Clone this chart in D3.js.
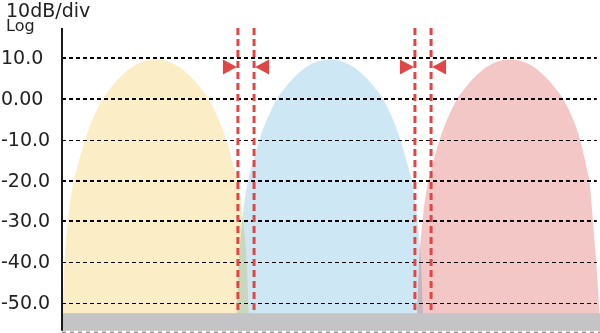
<!DOCTYPE html>
<html><head><meta charset="utf-8">
<script src="https://cdn.jsdelivr.net/npm/d3@7"></script>
<style>
html,body{margin:0;padding:0;background:#fff;}
svg{display:block;}
text{font-family:"DejaVu Sans",sans-serif;fill:#222;}
</style></head>
<body>
<script>
// ---- data ----
const yTicks = [10, 0, -10, -20, -30, -40, -50];
const yTickLabels = ["10.0", "0.00", "-10.0", "-20.0", "-30.0", "-40.0", "-50.0"];
const scaleLabel = "10dB/div";
const modeLabel = "Log";
const channelNames = ["ch1", "ch2", "ch3"];
const levels = [-52.5,-42,-30.2,-19.9,-17.4,-9.6,-2.7,0.3,2.6,4.8,7.0,9.0,9.7,9.0,7.0,4.8,2.6,0.3,-2.7,-9.6,-17.4,-19.9,-30.2,-42,-52.5];
const ch1X = [0.1,0.4,1.1,2.2,2.7,4.4,6.5,7.7,9.0,10.4,12.2,14.8,17.4,20.0,22.6,24.4,25.8,27.1,28.3,30.4,32.1,32.6,33.7,34.4,34.7];
const ch2X = [32.5,32.8,33.5,34.6,35.1,36.8,38.9,40.1,41.4,42.8,44.6,47.2,49.8,52.4,55.0,56.8,58.2,59.5,60.7,62.8,64.5,65.0,66.1,66.8,67.1];
const ch3X = [66.0,66.3,67.0,68.1,68.6,70.3,72.4,73.6,74.9,76.3,78.1,80.7,83.3,85.9,88.5,90.3,91.7,93.0,94.2,96.2,97.6,98.0,98.7,99.4,99.9];
const gapMarkers = [32.7, 35.7, 65.6, 68.6];   // red dashed boundaries
const markerLevel = 7.8;                        // dB of the arrow heads
const floorRange = [-52.5, -56.8];              // noise floor band
const xDomain = [0, 100];
const yDomain = [-50, 10];

// ---- chart ----
const W = 600, H = 333;
const colors = ["#fbedc6", "#cde8f4", "#f4c7c7"];
const x = d3.scaleLinear().domain(xDomain).range([62, 600]);
const y = d3.scaleLinear().domain(yDomain).range([303, 58]);

const svg = d3.select("body").append("svg").attr("width", W).attr("height", H);

// curves
const area = d3.area().x(d => x(d[0])).y0(y(floorRange[1])).y1(d => y(d[1])).curve(d3.curveMonotoneX);
const series = [ch1X, ch2X, ch3X].map(xs => xs.map((v, i) => [v, levels[i]]));
const g = svg.append("g").style("isolation", "isolate");
g.selectAll("path.ch").data(series).join("path")
  .attr("class", "ch")
  .attr("d", d => area(d))
  .attr("fill", (d, i) => colors[i])
  .style("mix-blend-mode", "multiply");

// gridlines
const thick = new Set([10, 0, -20, -30]);
svg.selectAll("line.grid").data(yTicks).join("line")
  .attr("class", "grid")
  .attr("x1", x(0)).attr("x2", x(99.4))
  .attr("y1", d => Math.round(y(d)) + (thick.has(d) ? 0 : 0.5))
  .attr("y2", d => Math.round(y(d)) + (thick.has(d) ? 0 : 0.5))
  .attr("stroke", "#000")
  .attr("stroke-width", d => thick.has(d) ? 2 : 1.2)
  .attr("stroke-dasharray", "4,3");

// noise floor band
svg.append("rect")
  .attr("x", x(0)).attr("width", x(100) - x(0))
  .attr("y", y(floorRange[0])).attr("height", y(floorRange[1]) - y(floorRange[0]))
  .attr("fill", "#c4c3c5");
svg.append("line")
  .attr("x1", x(0)).attr("x2", x(100))
  .attr("y1", y(floorRange[1]) + 1.5).attr("y2", y(floorRange[1]) + 1.5)
  .attr("stroke", "#9a9a9a").attr("stroke-width", 1.5).attr("stroke-dasharray", "4,4");

// axis line
svg.append("line")
  .attr("x1", x(0)).attr("x2", x(0))
  .attr("y1", 28).attr("y2", y(floorRange[1]))
  .attr("stroke", "#1a1a1a").attr("stroke-width", 2);

// tick labels
svg.selectAll("text.tick").data(yTicks).join("text")
  .attr("class", "tick")
  .attr("x", 1).attr("y", d => y(d) + 6)
  .attr("font-size", 19)
  .text((d, i) => yTickLabels[i]);

svg.append("text").attr("x", 6).attr("y", 17).attr("font-size", 19).text(scaleLabel);
svg.append("text").attr("x", 6).attr("y", 31).attr("font-size", 16).text(modeLabel);

// red markers
const red = "#e04646";
svg.selectAll("line.marker").data(gapMarkers).join("line")
  .attr("class", "marker")
  .attr("x1", d => x(d)).attr("x2", d => x(d))
  .attr("y1", 28).attr("y2", y(floorRange[0]))
  .attr("stroke", red).attr("stroke-width", 3).attr("stroke-dasharray", "7,4");

const ty = y(markerLevel);
const tri = [];
for (let k = 0; k < gapMarkers.length; k += 2) {
  tri.push({tip: x(gapMarkers[k]) - 1, dir: 1});
  tri.push({tip: x(gapMarkers[k + 1]) + 1, dir: -1});
}
svg.selectAll("path.tri").data(tri).join("path")
  .attr("class", "tri")
  .attr("d", t => `M${t.tip},${ty} L${t.tip - t.dir * 14},${ty - 7.5} L${t.tip - t.dir * 14},${ty + 7.5} Z`)
  .attr("fill", red);
</script>
</body></html>
